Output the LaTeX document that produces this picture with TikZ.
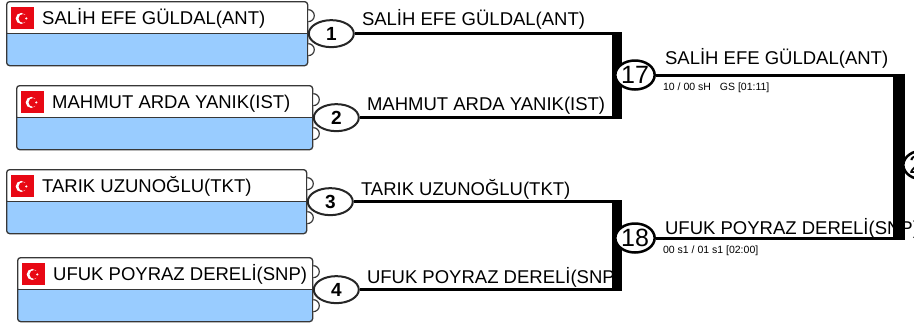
\documentclass[tikz,border=0pt]{standalone}
\usepackage{fontspec}
\setmainfont{Liberation Sans}
\usepackage{tikz}
\usetikzlibrary{shapes.geometric}
\definecolor{boxblue}{RGB}{153,204,255}
\definecolor{flagred}{RGB}{232,8,20}
\definecolor{rim}{RGB}{55,55,55}
\tikzset{
  plate/.style={draw=rim, line width=1.3pt, rounded corners=3pt, fill=boxblue,
    minimum height=64pt, inner sep=0pt, anchor=north west,
    path picture={
      \fill[white] (path picture bounding box.north west) rectangle (path picture bounding box.east);
      \draw[rim, line width=1.3pt] (path picture bounding box.west) -- (path picture bounding box.east);
    }},
  flag/.style={fill=flagred, minimum width=23pt, minimum height=22pt, inner sep=0pt, anchor=south west,
    path picture={
      \fill[white] ([xshift=-1.5pt]path picture bounding box.center) circle (5.5pt);
      \fill[flagred] ([xshift=0.3pt]path picture bounding box.center) circle (4.4pt);
      \fill[white] ([xshift=3.6pt]path picture bounding box.center) circle (1.2pt);
    }},
  bump/.style={draw=rim, line width=1.2pt, fill=white},
  seed/.style={ellipse, draw=black!85, line width=2pt, fill=white, minimum width=45pt,
    minimum height=27pt, inner sep=0pt, font=\fontsize{19}{19}\selectfont\bfseries},
  match/.style={ellipse, draw=black, line width=2.5pt, fill=white, minimum width=37pt,
    minimum height=29pt, inner sep=0pt, font=\fontsize{25}{25}\selectfont},
  wire/.style={line width=3pt},
  bar/.style={line width=10pt},
  entrant/.style={anchor=base west, inner sep=0pt, font=\fontsize{18.5}{20}\selectfont},
  score/.style={anchor=base west, inner sep=0pt, font=\fontsize{10.5}{12}\selectfont}
}

\begin{document}
\begin{tikzpicture}[x=1pt, y=-1pt]
\useasboundingbox (0,0) rectangle (914,330);
% entry plates with seed numbers
\foreach \n/\x/\y/\w/\who in {1/6/1/301/{SALİH EFE GÜLDAL(ANT)},
    2/16/85/296/{MAHMUT ARDA YANIK(IST)},
    3/6/169/300/{TARIK UZUNOĞLU(TKT)},
    4/17/257/295/{UFUK POYRAZ DERELİ(SNP)}} {
  \node[plate, minimum width=\w pt] (box\n) at (\x,\y) {};
  \node[flag] (flag\n) at ([xshift=5pt,yshift=4pt]box\n.west) {};
  \node[entrant] (entry\n) at ([xshift=36pt,yshift=9pt]box\n.west) {\who};
  \draw[bump] ([yshift=24pt]box\n.east) arc[start angle=90, end angle=-90, radius=6pt];
  \draw[bump] ([yshift=-10pt]box\n.east) arc[start angle=90, end angle=-90, radius=6pt];
  \node[seed] (c\n) at ([xshift=23pt]box\n.east) {\n};
}
% first round
\coordinate (j1) at (617,0);
\coordinate (j2) at (899,0);
\foreach \n in {1,...,4}
  \draw[wire] (c\n.east) -- (c\n.east -| j1);
\foreach \n/\dy/\who in {1/8/{SALİH EFE GÜLDAL(ANT)}, 2/7/{MAHMUT ARDA YANIK(IST)},
    3/6/{TARIK UZUNOĞLU(TKT)}, 4/6/{UFUK POYRAZ DERELİ(SNP)}}
  \node[entrant] (win\n) at ([xshift=7pt,yshift=\dy pt]c\n.east) {\who};
\draw[bar] ([yshift=1.5pt]c1.east -| j1) -- ([yshift=-1.5pt]c2.east -| j1);
\draw[bar] ([yshift=1.5pt]c3.east -| j1) -- ([yshift=-1.5pt]c4.east -| j1);
% second round
\node[match] (m17) at (635,75) {17};
\node[match] (m18) at (635,238) {18};
\draw[wire] (m17.east) -- (m17.east -| j2);
\draw[wire] (m18.east) -- (m18.east -| j2);
\node[entrant] (win17) at ([xshift=9pt,yshift=11pt]m17.east) {SALİH EFE GÜLDAL(ANT)};
\node[entrant] (win18) at ([xshift=9pt,yshift=4pt]m18.east) {UFUK POYRAZ DERELİ(SNP)};
\node[score] (res17) at ([xshift=7pt,yshift=-15pt]m17.east) {10 / 00 sH\hspace{9pt}GS [01:11]};
\node[score] (res18) at ([xshift=7pt,yshift=-15pt]m18.east) {00 s1 / 01 s1 [02:00]};
\draw[bar, line width=12pt] ([yshift=1.5pt]m17.east -| j2) -- ([yshift=-1.5pt]m18.east -| j2);
\node[match] (m25) at (923,165) {2\phantom{5}};
\end{tikzpicture}
\end{document}
